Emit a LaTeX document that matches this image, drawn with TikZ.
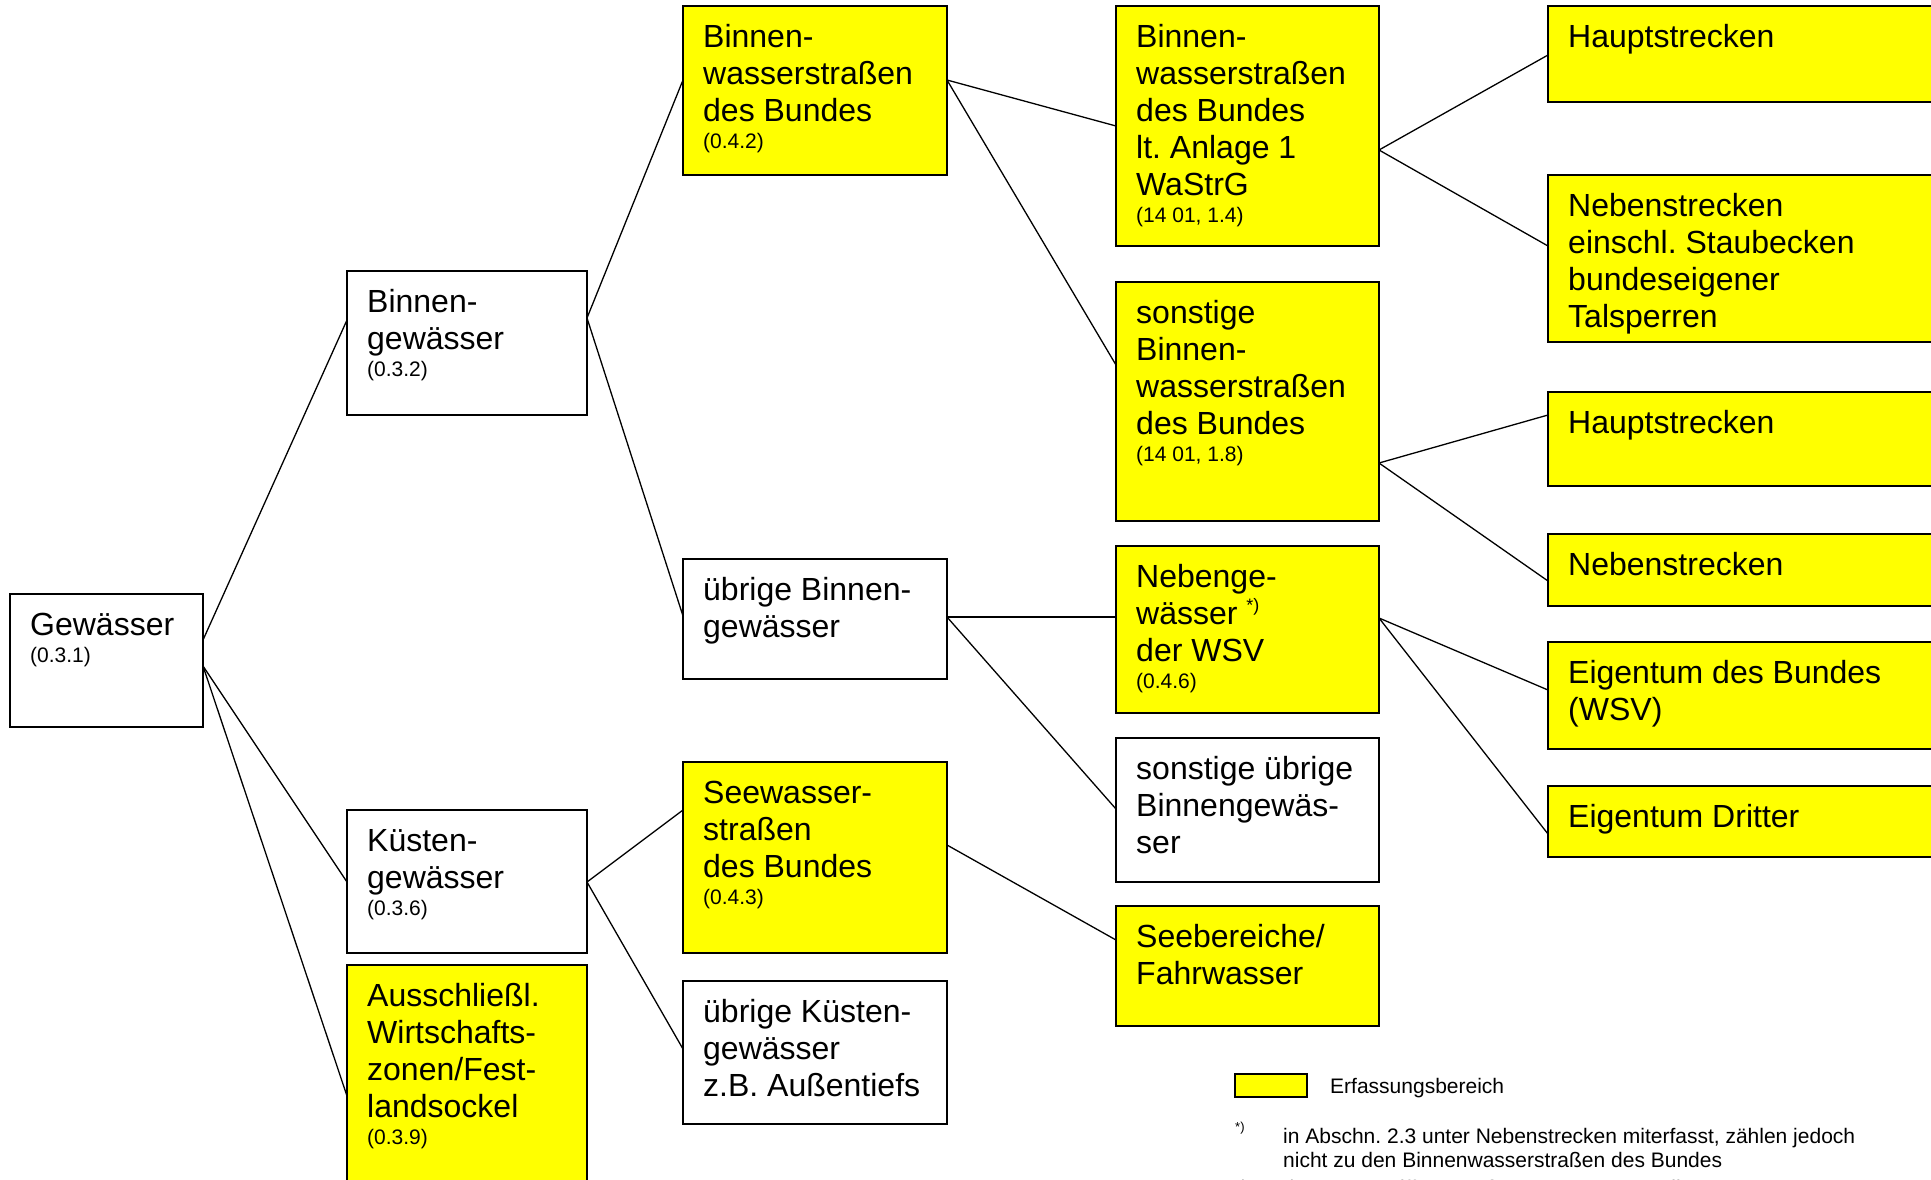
\documentclass[tikz,border=0pt]{standalone}
\usepackage{fontspec}
\setmainfont{Liberation Sans}
\frenchspacing
\usetikzlibrary{calc}
\definecolor{gelb}{RGB}{255,255,0}
\tikzset{
  x=1pt, y=-1pt,
  boxshape/.style={draw=black, line width=1.5pt, rectangle, inner sep=0pt, outer sep=0pt, anchor=north west},
  maintxt/.style={font=\fontsize{32}{37}\selectfont, inner sep=0pt, anchor=base west},
  smalltxt/.style={font=\fontsize{21}{25}\selectfont, inner sep=0pt, anchor=base west},
  notetxt/.style={font=\fontsize{21}{24.6}\selectfont, inner sep=0pt, anchor=base west},
  conn/.style={draw=black, line width=1.3pt},
}
\newcommand\toplines[1]{\begin{tabular}[t]{@{}l@{}}#1\end{tabular}}
% name, x, y, w, h, fill, main text
\newcommand\bx[7]{%
  \node[boxshape, fill=#6, minimum width=#4pt, minimum height=#5pt] (#1) at (#2,#3) {};
  \node[maintxt] (#1t) at ($(#1.north west)+(20,41)$) {\toplines{#7}};}
% name, baseline offset, text
\newcommand\sm[3]{\node[smalltxt] (#1s) at ($(#1.north west)+(20,#2)$) {#3};}
% from, dy, to, dy
\newcommand\cn[4]{\draw[conn] ($(#1.north east)+(0,#2)$) -- ($(#3.north west)+(0,#4)$);}
\begin{document}
\begin{tikzpicture}
\useasboundingbox[fill=white] (0,0) rectangle (1931,1179);
% column 1
\bx{g}{10}{594}{193}{133}{white}{Gewässer}
\sm{g}{68}{(0.3.1)}
% column 2
\bx{bin}{347}{271}{240}{144}{white}{Binnen-\\gewässer}
\sm{bin}{105}{(0.3.2)}
\bx{kue}{347}{810}{240}{143}{white}{Küsten-\\gewässer}
\sm{kue}{105}{(0.3.6)}
\bx{aws}{347}{965}{240}{260}{gelb}{Ausschließl.\\Wirtschafts-\\zonen/Fest-\\landsockel}
\sm{aws}{179}{(0.3.9)}
% column 3
\bx{bwb}{683}{6}{264}{169}{gelb}{Binnen-\\wasserstraßen\\des Bundes}
\sm{bwb}{142}{(0.4.2)}
\bx{ubg}{683}{559}{264}{120}{white}{übrige Binnen-\\gewässer}
\bx{sws}{683}{762}{264}{191}{gelb}{Seewasser-\\straßen\\des Bundes}
\sm{sws}{142}{(0.4.3)}
\bx{ukg}{683}{981}{264}{143}{white}{übrige Küsten-\\gewässer\\z.B. Außentiefs}
% column 4
\bx{anl}{1116}{6}{263}{240}{gelb}{Binnen-\\wasserstraßen\\des Bundes\\lt. Anlage 1\\WaStrG}
\sm{anl}{216}{(14 01, 1.4)}
\bx{son}{1116}{282}{263}{239}{gelb}{sonstige\\Binnen-\\wasserstraßen\\des Bundes}
\sm{son}{179}{(14 01, 1.8)}
\bx{neg}{1116}{546}{263}{167}{gelb}{Nebenge-\\wässer \raisebox{13pt}{\fontsize{18}{20}\selectfont *)}\\der WSV}
\sm{neg}{142}{(0.4.6)}
\bx{sub}{1116}{738}{263}{144}{white}{sonstige übrige\\Binnengewäs-\\ser}
\bx{seb}{1116}{906}{263}{120}{gelb}{Seebereiche/\\Fahrwasser}
% column 5
\bx{hs1}{1548}{6}{420}{96}{gelb}{Hauptstrecken}
\bx{nse}{1548}{175}{420}{167}{gelb}{Nebenstrecken\\einschl. Staubecken\\bundeseigener\\Talsperren}
\bx{hs2}{1548}{392}{420}{94}{gelb}{Hauptstrecken}
\bx{nsb}{1548}{534}{420}{72}{gelb}{Nebenstrecken}
\bx{eib}{1548}{642}{420}{107}{gelb}{Eigentum des Bundes\\(WSV)}
\bx{eid}{1548}{786}{420}{71}{gelb}{Eigentum Dritter}
% connectors
\cn{g}{46}{bin}{49}
\cn{g}{72}{kue}{72}
\cn{g}{72}{aws}{131}
\cn{bin}{47}{bwb}{74}
\cn{bin}{47}{ubg}{57}
\cn{kue}{72}{sws}{48}
\cn{kue}{72}{ukg}{68}
\cn{bwb}{74}{anl}{120}
\cn{bwb}{74}{son}{83}
\cn{ubg}{58}{neg}{71}
\cn{ubg}{58}{sub}{71}
\cn{sws}{83}{seb}{34}
\cn{anl}{144}{hs1}{49}
\cn{anl}{144}{nse}{71}
\cn{son}{181}{hs2}{23}
\cn{son}{181}{nsb}{47}
\cn{neg}{72}{eib}{48}
\cn{neg}{72}{eid}{48}
% legend
\node[boxshape, fill=gelb, minimum width=72pt, minimum height=23pt] (leg) at (1235,1074) {};
\node[smalltxt, anchor=west] (legt) at ($(leg.east)+(23,3)$) {Erfassungsbereich};
\node[inner sep=0pt, anchor=base west, font=\fontsize{13}{15}\selectfont] (star) at (1235,1131) {*)};
\node[notetxt] (note) at (1283,1143) {\toplines{in Abschn. 2.3 unter Nebenstrecken miterfasst, zählen jedoch\\nicht zu den Binnenwasserstraßen des Bundes}};
\node[notetxt] (note2) at (1237,1195) {(0.3.3)\hspace{58pt}Begriffe gemäß VV-WSV 11 03 Teil II};
\end{tikzpicture}
\end{document}
